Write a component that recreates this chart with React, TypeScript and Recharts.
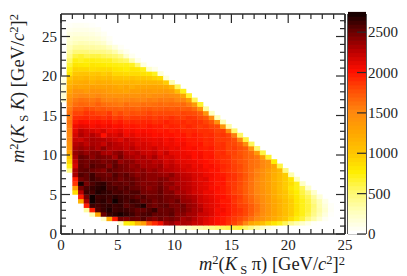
import React from 'react';
import { ScatterChart, Scatter, XAxis, YAxis, Label } from 'recharts';

// counts per bin, one list per row of the 2D histogram; rowFirstColumn gives the first filled column of each row
const row01 = [150,180,220,280,320,360,420,480,540,580,600,620,520,420,320,220,120,60];
const row02 = [200,720,780,1100,1300,1750,1900,2050,2300,2350,2250,2300,2280,2200,2180,2100,2060,2000,1960,1880,1800,1700,1500,1250,1150,1050,900,800,700,550,400,300,200,100,20];
const row03 = [200,1200,1950,2450,2420,2500,2480,2550,2450,2400,2480,2420,2450,2400,2300,2340,2260,2180,2120,2060,2000,1960,1900,1840,1780,1700,1600,1500,1400,1300,1200,1100,1000,850,720,620,450,320,180,50];
const row04 = [300,1250,2480,2620,2650,2700,2640,2600,2520,2560,2580,2500,2500,2480,2520,2400,2400,2320,2300,2200,2180,2120,2040,2000,1960,1880,1840,1780,1680,1560,1450,1350,1250,1150,1050,950,800,700,580,420,280,130,20];
const row05 = [350,1950,2550,2620,2680,2600,2620,2600,2560,2500,2500,2550,2620,2480,2480,2500,2420,2440,2380,2300,2280,2160,2120,2020,2040,1960,1900,1860,1790,1700,1600,1480,1370,1260,1150,1050,950,820,700,620,450,320,180,40];
const row06 = [1950,2600,2580,2620,2640,2600,2620,2520,2560,2600,2680,2500,2450,2500,2520,2440,2420,2460,2360,2320,2240,2140,2100,2060,2000,1960,1900,1820,1790,1700,1600,1480,1370,1260,1150,1050,950,820,700,620,480,300,150,30];
const row07 = [1150,2300,2750,2620,2650,2580,2730,2620,2560,2620,2580,2500,2520,2450,2500,2460,2420,2480,2360,2340,2280,2180,2140,2100,2040,1960,1960,1860,1800,1730,1650,1550,1450,1340,1240,1150,1050,950,800,700,600,420,280,100];
const row08 = [1950,2450,2750,2600,2620,2600,2650,2600,2580,2550,2500,2550,2480,2480,2500,2450,2440,2400,2340,2300,2260,2180,2120,2080,2020,2000,1940,1880,1820,1720,1630,1530,1440,1340,1210,1100,1000,900,780,650,550,350,150];
const row09 = [850,2250,2600,2580,2680,2640,2620,2560,2580,2520,2560,2560,2450,2440,2440,2500,2400,2420,2300,2300,2240,2160,2140,2060,2060,1980,1960,1900,1820,1780,1690,1600,1500,1410,1310,1190,1080,1000,850,750,600,450,200];
const row10 = [1300,2450,2560,2620,2650,2680,2560,2580,2520,2550,2500,2480,2440,2380,2420,2480,2400,2320,2340,2260,2240,2180,2120,2100,2020,2000,1960,1900,1840,1760,1680,1590,1500,1400,1300,1180,1060,950,800,700,550,200];
const row11 = [1850,2700,2450,2560,2620,2640,2550,2500,2520,2480,2520,2450,2400,2420,2400,2450,2360,2380,2280,2260,2220,2160,2120,2080,2040,1960,1980,1880,1840,1780,1690,1600,1500,1400,1300,1180,1070,950,850,700,220];
const row12 = [1950,2450,2500,2600,2550,2500,2500,2520,2450,2500,2500,2440,2420,2380,2380,2420,2400,2320,2300,2240,2220,2150,2100,2120,2020,1980,1980,1880,1860,1780,1700,1600,1500,1400,1300,1160,1060,950,800,250];
const row13 = [2300,2550,2500,2600,2500,2480,2450,2550,2480,2520,2450,2380,2420,2380,2380,2350,2320,2380,2280,2220,2200,2140,2120,2060,2040,1980,1960,1900,1860,1800,1720,1620,1530,1430,1320,1180,1070,950,300];
const row14 = [450,2300,2500,2520,2480,2450,2400,2520,2480,2450,2420,2400,2350,2400,2320,2360,2300,2260,2240,2200,2160,2120,2100,2060,2040,1980,1980,1900,1860,1820,1760,1690,1610,1520,1430,1320,1200,1100,450];
const row15 = [700,2150,2500,2450,2550,2500,2500,2400,2520,2450,2420,2350,2380,2300,2300,2280,2320,2200,2240,2180,2120,2140,2060,2080,2000,2020,1960,1920,1880,1820,1780,1700,1620,1580,1500,1400,1250,600];
const row16 = [900,2200,2480,2450,2500,2480,2420,2450,2500,2350,2400,2380,2300,2280,2300,2240,2260,2160,2200,2120,2100,2080,2060,2020,2000,1960,1940,1880,1860,1800,1740,1700,1620,1580,1500,1400,750];
const row17 = [1000,2300,2500,2460,2380,2450,2420,2400,2300,2450,2320,2300,2250,2300,2220,2300,2180,2140,2160,2100,2060,2080,2000,2040,1960,1980,1900,1880,1860,1780,1760,1680,1640,1580,1300,650];
const row18 = [1250,2350,2420,2350,2400,2420,2300,2280,2360,2400,2280,2240,2280,2200,2180,2220,2120,2200,2100,2080,2060,2040,2000,2020,1960,1960,1880,1900,1820,1800,1740,1680,1620,1350,600];
const row19 = [1380,2300,2350,2300,2350,2280,2380,2280,2250,2260,2200,2260,2180,2160,2140,2180,2100,2100,2060,2080,2020,2000,2020,1960,1940,1960,1880,1880,1800,1820,1760,1700,1400,500];
const row20 = [1420,2250,2300,2220,2300,2280,2200,2300,2250,2220,2180,2200,2120,2150,2120,2080,2100,2040,2060,2020,2040,1980,1960,1980,1900,1920,1860,1880,1800,1780,1700,1450,550];
const row21 = [1480,2200,2180,2250,2300,2280,2260,2220,2180,2120,2200,2150,2120,2100,2080,2060,2080,2020,2060,2000,2000,1960,1960,1940,1900,1920,1840,1840,1820,1760,1500,600];
const row22 = [1500,2150,2280,2200,2270,2200,2000,2150,2120,2180,2050,2100,2040,2060,2040,2000,2020,1980,2000,1960,1980,1920,1960,1920,1880,1900,1840,1860,1800,1550,520];
const row23 = [1520,2100,2240,2180,2150,2100,2150,2050,2060,2100,2020,2040,2000,2020,2000,1980,1960,1980,1940,1960,1920,1900,1920,1880,1880,1860,1800,1820,1450,500];
const row24 = [1560,2050,2100,2080,2020,2060,2020,2050,2000,2020,1960,1980,1960,1940,1980,1950,1960,1900,1940,1920,1880,1920,1880,1840,1860,1800,1780,1400,320];
const row25 = [1600,1950,2020,2000,1980,2000,1960,1980,1920,1960,1900,1920,1900,1920,1920,1880,1900,1940,1900,1880,1900,1860,1880,1860,1800,1720,1420,280];
const row26 = [1560,1880,1900,1920,1880,1900,1860,1900,1820,1860,1800,1840,1840,1840,1860,1820,1860,1840,1880,1840,1820,1860,1840,1780,1720,1450,280];
const row27 = [1600,1800,1800,1860,1840,1800,1780,1840,1720,1780,1720,1760,1740,1760,1800,1760,1780,1780,1780,1760,1800,1780,1760,1700,1400,250];
const row28 = [1560,1720,1720,1780,1740,1700,1720,1680,1680,1660,1680,1680,1660,1700,1720,1680,1700,1720,1700,1720,1680,1700,1620,1400,350];
const row29 = [1500,1620,1660,1640,1620,1680,1620,1600,1580,1560,1620,1580,1580,1620,1600,1620,1640,1620,1640,1620,1640,1560,1350,650];
const row30 = [170,1440,1560,1600,1580,1560,1600,1520,1500,1520,1480,1500,1520,1500,1500,1540,1520,1560,1540,1560,1500,1500,1300,550];
const row31 = [170,1350,1450,1500,1480,1440,1500,1430,1420,1400,1400,1420,1400,1400,1440,1400,1450,1450,1480,1450,1420,1250,650];
const row32 = [160,1260,1400,1400,1330,1400,1380,1360,1320,1300,1280,1250,1320,1300,1340,1350,1320,1340,1350,1300,1050,700];
const row33 = [150,1180,1280,1250,1270,1300,1280,1270,1280,1250,1200,1260,1180,1240,1240,1250,1260,1240,1220,1100,550];
const row34 = [130,1100,1180,1200,1220,1150,1200,1180,1180,1130,1130,1120,1130,1100,1120,1120,1120,1100,950,300];
const row35 = [90,980,1100,1080,1120,1060,1100,1060,1080,1000,1000,980,1020,980,980,960,900,850,150];
const row36 = [800,980,1000,1000,980,1000,940,980,880,880,860,860,860,820,800,680,150];
const row37 = [720,900,880,880,840,860,860,860,800,780,740,800,780,700,200,80];
const row38 = [620,800,780,760,800,780,760,740,720,700,700,680,500,120];
const row39 = [520,720,680,720,720,700,680,680,600,560,520,300,80];
const row40 = [420,600,640,580,600,600,550,520,480,400,200,60];
const row41 = [340,470,470,470,440,430,420,380,300,160,60];
const row42 = [270,350,360,340,340,320,300,240,130,40];
const row43 = [200,260,280,270,260,230,190,80];
const row44 = [160,200,200,190,170,150,100,40];
const row45 = [120,140,140,130,120,90,50];
const row46 = [70,90,90,90,70,50];
const row47 = [30,50,50,40,20];

const rows = [row01,row02,row03,row04,row05,row06,row07,row08,row09,row10,row11,row12,row13,row14,row15,row16,row17,row18,row19,row20,row21,row22,row23,row24,row25,row26,row27,row28,row29,row30,row31,row32,row33,row34,row35,row36,row37,row38,row39,row40,row41,row42,row43,row44,row45,row46,row47];
const rowFirstColumn = [20,10,7,5,4,4,3,3,2,2,2,2,2,1,1,1,1,1,1,1,1,1,1,1,1,1,1,1,1,0,0,0,0,0,0,1,1,1,1,1,1,1,1,1,1,1,1];

const xTicks = [0,1,2,3,4,5,6,7,8,9,10,11,12,13,14,15,16,17,18,19,20,21,22,23,24,25];
const yTicks = [0,1,2,3,4,5,6,7,8,9,10,11,12,13,14,15,16,17,18,19,20,21,22,23,24,25,26,27];
const zTicks = [0,500,1000,1500,2000,2500];
const zBands = [0,50,100,150,200,250,300,350,400,450,500,550,600,650,700,750,800,850,900,950,1000,1050,1100,1150,1200,1250,1300,1350,1400,1450,1500,1550,1600,1650,1700,1750,1800,1850,1900,1950,2000,2050,2100,2150,2200,2250,2300,2350,2400,2450,2500,2550,2600,2650,2700];

const X_MAX = 25;
const Y_MAX = 27.85;
const Z_MAX = 2725;
const BINS = 50;
const PW = 284;
const PH = 220;
const CW = PW / BINS;
const CH = PH / BINS;
const INK = '#2a2a2a';
const FONT = '"Liberation Serif", serif';

const stops: [number, number, number, number][] = [
  [0, 255, 255, 255],
  [250, 255, 255, 190],
  [500, 255, 248, 110],
  [750, 255, 238, 0],
  [1000, 255, 196, 0],
  [1250, 255, 165, 0],
  [1500, 255, 135, 15],
  [1750, 255, 80, 5],
  [2000, 255, 15, 0],
  [2250, 185, 0, 0],
  [2500, 100, 0, 0],
  [2725, 15, 0, 0],
];
function colour(v: number): string {
  for (let k = 1; k < stops.length; k++) {
    if (v <= stops[k][0]) {
      const a = stops[k - 1], b = stops[k];
      const t = (v - a[0]) / (b[0] - a[0]);
      return `rgb(${Math.round(a[1] + (b[1] - a[1]) * t)},${Math.round(a[2] + (b[2] - a[2]) * t)},${Math.round(a[3] + (b[3] - a[3]) * t)})`;
    }
  }
  return 'rgb(15,0,0)';
}

const cells: { x: number; y: number; v: number }[] = [];
rows.forEach((vals, r) => {
  vals.forEach((v, k) => {
    cells.push({
      x: ((rowFirstColumn[r] + k + 0.5) * X_MAX) / BINS,
      y: ((r + 1.5) * Y_MAX) / BINS,
      v,
    });
  });
});
const bandCells = zBands.map((v) => ({ x: 0.5, y: v + 25, v }));

const Cell = (p: any) => (
  <rect x={p.cx - CW / 2} y={p.cy - CH / 2} width={CW + 0.35} height={CH + 0.35} fill={colour(p.payload.v)} />
);
const Band = (p: any) => (
  <rect x={p.cx - 9} y={p.cy - 2.1} width={18} height={4.8} fill={colour(p.payload.v)} />
);

const tickX = (dir: number, labelled: boolean) => (p: any) => {
  const major = p.payload.value % 5 === 0;
  return (
    <g>
      <line x1={p.x} x2={p.x} y1={dir > 0 ? 234 : 14} y2={(dir > 0 ? 234 : 14) - dir * (major ? 9 : 5)} stroke={INK} strokeWidth={1.2} />
      {labelled && major ? (
        <text x={p.x} y={250} textAnchor="middle" fontFamily={FONT} fontSize={15} fill="#222">{p.payload.value}</text>
      ) : null}
    </g>
  );
};
const tickY = (dir: number, labelled: boolean) => (p: any) => {
  const major = p.payload.value % 5 === 0;
  const edge = dir > 0 ? 61 : 345;
  return (
    <g>
      <line x1={edge} x2={edge + dir * (major ? 9 : 5)} y1={p.y} y2={p.y} stroke={INK} strokeWidth={1.2} />
      {labelled && major ? (
        <text x={57} y={p.y + 5} textAnchor="end" fontFamily={FONT} fontSize={15} fill="#222">{p.payload.value}</text>
      ) : null}
    </g>
  );
};
const tickZ = (p: any) => (
  <g>
    <line x1={366} x2={357} y1={p.y} y2={p.y} stroke={INK} strokeWidth={1.2} />
    <text x={368} y={p.y + 5} textAnchor="start" fontFamily={FONT} fontSize={15} fill="#222">{p.payload.value}</text>
  </g>
);

const xTitle = () => (
  <text x={345} y={270} textAnchor="end" fontFamily={FONT} fontSize={18.5} fill="#222">
    <tspan fontStyle="italic">m</tspan>
    <tspan dy={-6} fontSize={12.5}>2</tspan>
    <tspan dy={6}>(</tspan>
    <tspan fontStyle="italic">K</tspan>
    <tspan dy={4} fontSize={12.5}> S</tspan>
    <tspan dy={-4}> π) [GeV/</tspan>
    <tspan fontStyle="italic">c</tspan>
    <tspan dy={-6} fontSize={12.5}>2</tspan>
    <tspan dy={6}>]</tspan>
    <tspan dy={-5} fontSize={12.5}>2</tspan>
  </text>
);
const yTitle = () => (
  <text transform="translate(24,14) rotate(-90)" x={0} y={0} textAnchor="end" fontFamily={FONT} fontSize={18.5} fill="#222">
    <tspan fontStyle="italic">m</tspan>
    <tspan dy={-6} fontSize={12.5}>2</tspan>
    <tspan dy={6}>(</tspan>
    <tspan fontStyle="italic">K</tspan>
    <tspan dy={4} fontSize={12.5}> S</tspan>
    <tspan dy={-4}> </tspan>
    <tspan fontStyle="italic">K</tspan>
    <tspan>) [GeV/</tspan>
    <tspan fontStyle="italic">c</tspan>
    <tspan dy={-6} fontSize={12.5}>2</tspan>
    <tspan dy={6}>]</tspan>
    <tspan dy={-6} fontSize={12.5}>2</tspan>
  </text>
);

const line = { stroke: INK, strokeWidth: 1.6 };

export default function App() {
  return (
    <div style={{ position: 'absolute', left: 0, top: 0, width: 407, height: 276 }}>
      <div style={{ position: 'absolute', left: 0, top: 0 }}>
        <ScatterChart width={407} height={276} margin={{ top: 13, left: 60, right: 61, bottom: 41 }}>
          <XAxis xAxisId="b" dataKey="x" type="number" domain={[0, X_MAX]} ticks={xTicks} interval={0} height={1} axisLine={line} tickLine={false} tick={tickX(1, true)} allowDataOverflow>
            <Label content={xTitle} />
          </XAxis>
          <XAxis xAxisId="t" orientation="top" dataKey="x" type="number" domain={[0, X_MAX]} ticks={xTicks} interval={0} height={1} axisLine={line} tickLine={false} tick={tickX(-1, false)} allowDataOverflow />
          <YAxis yAxisId="l" dataKey="y" type="number" domain={[0, Y_MAX]} ticks={yTicks} interval={0} width={1} axisLine={line} tickLine={false} tick={tickY(1, true)} allowDataOverflow>
            <Label content={yTitle} />
          </YAxis>
          <YAxis yAxisId="r" orientation="right" dataKey="y" type="number" domain={[0, Y_MAX]} ticks={yTicks} interval={0} width={1} axisLine={line} tickLine={false} tick={tickY(-1, false)} allowDataOverflow />
          <Scatter data={cells} xAxisId="b" yAxisId="l" shape={Cell} isAnimationActive={false} />
        </ScatterChart>
      </div>
      <div style={{ position: 'absolute', left: 0, top: 0 }}>
        <ScatterChart width={407} height={276} margin={{ top: 13, left: 347, right: 40, bottom: 41 }}>
          <XAxis xAxisId="b" dataKey="x" type="number" domain={[0, 1]} ticks={[]} height={1} axisLine={line} tickLine={false} />
          <XAxis xAxisId="t" orientation="top" dataKey="x" type="number" domain={[0, 1]} ticks={[]} height={1} axisLine={line} tickLine={false} />
          <YAxis yAxisId="l" dataKey="y" type="number" domain={[0, Z_MAX]} ticks={[]} width={1} axisLine={line} tickLine={false} />
          <YAxis yAxisId="r" orientation="right" dataKey="y" type="number" domain={[0, Z_MAX]} ticks={zTicks} interval={0} width={1} axisLine={line} tickLine={false} tick={tickZ} allowDataOverflow />
          <Scatter data={bandCells} xAxisId="b" yAxisId="l" shape={Band} isAnimationActive={false} />
        </ScatterChart>
      </div>
    </div>
  );
}
